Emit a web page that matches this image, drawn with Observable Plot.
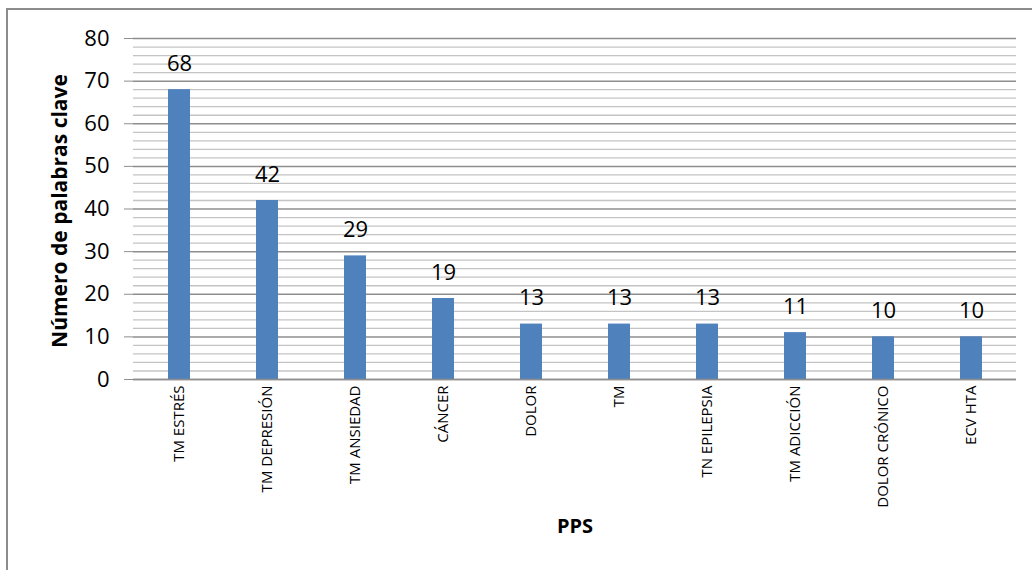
<!DOCTYPE html>
<html>
<head>
<meta charset="utf-8">
<script src="https://cdn.jsdelivr.net/npm/d3@7"></script>
<script src="https://cdn.jsdelivr.net/npm/@observablehq/plot@0.6"></script>
<style>
  html, body { margin: 0; padding: 0; background: #fff; overflow: hidden; }
  #wrap { position: relative; width: 1032px; height: 570px; }
  #border { position: absolute; left: 6px; top: 8px; width: 1100px; height: 700px;
            border: 2px solid #8c8c8c; box-sizing: border-box; pointer-events: none; }
  #chart { position: absolute; left: 0; top: 0; }
</style>
</head>
<body>
<div id="wrap"><div id="chart"></div><div id="border"></div></div>
<script>
const categories = ["TM ESTRÉS","TM DEPRESIÓN","TM ANSIEDAD","CÁNCER","DOLOR","TM","TN EPILEPSIA","TM ADICCIÓN","DOLOR CRÓNICO","ECV HTA"];
const values = [68, 42, 29, 19, 13, 13, 13, 11, 10, 10];
const majorTicks = [0, 10, 20, 30, 40, 50, 60, 70, 80];
const minorTicks = d3.range(0, 81, 2).filter(v => v % 10 !== 0);
const yTitle = "Número de palabras clave";
const xTitle = "PPS";

const data = categories.map((c, i) => ({cat: c, val: values[i]}));
const font = "'Open Sans', 'Noto Sans', sans-serif";

const chart = Plot.plot({
  width: 1032,
  height: 570,
  marginLeft: 133,
  marginRight: 16,
  marginTop: 38,
  marginBottom: 191,
  style: {fontFamily: font, background: "transparent", overflow: "visible"},
  x: {domain: categories, paddingInner: 0.75, paddingOuter: 0.375, align: 0.5},
  y: {domain: [0, 80]},
  marks: [
    Plot.gridY(minorTicks, {stroke: "#c4c4c4", strokeOpacity: 1, strokeWidth: 1.3}),
    Plot.gridY(majorTicks, {stroke: "#8e8e8e", strokeOpacity: 1, strokeWidth: 1.5}),
    Plot.barY(data, {x: "cat", y: "val", fill: "#4f81bd"}),
    Plot.ruleX([0], {frameAnchor: "left", stroke: "#8e8e8e", strokeWidth: 1.5}),
    Plot.ruleY([0], {stroke: "#8e8e8e", strokeWidth: 1.5}),
    Plot.axisY(majorTicks, {tickSize: 9, tickPadding: 15, stroke: "#8e8e8e", fontSize: 22, fill: "#000", label: null}),
    Plot.axisX({tickSize: 0, tickRotate: -90, tickPadding: 6, fontSize: 15, fill: "#000", label: null}),
    Plot.text(data, {x: "cat", y: "val", text: d => String(d.val), dy: -26, fontSize: 22, fill: "#000"}),
    Plot.text([yTitle], {frameAnchor: "left", textAnchor: "middle", rotate: -90, dx: -73, dy: 2, fontSize: 21, fontWeight: "bold", fill: "#000"}),
    Plot.text([xTitle], {frameAnchor: "bottom", textAnchor: "middle", dy: 153, fontSize: 20, fontWeight: "bold", fill: "#000"})
  ]
});
document.getElementById("chart").appendChild(chart);
</script>
</body>
</html>
